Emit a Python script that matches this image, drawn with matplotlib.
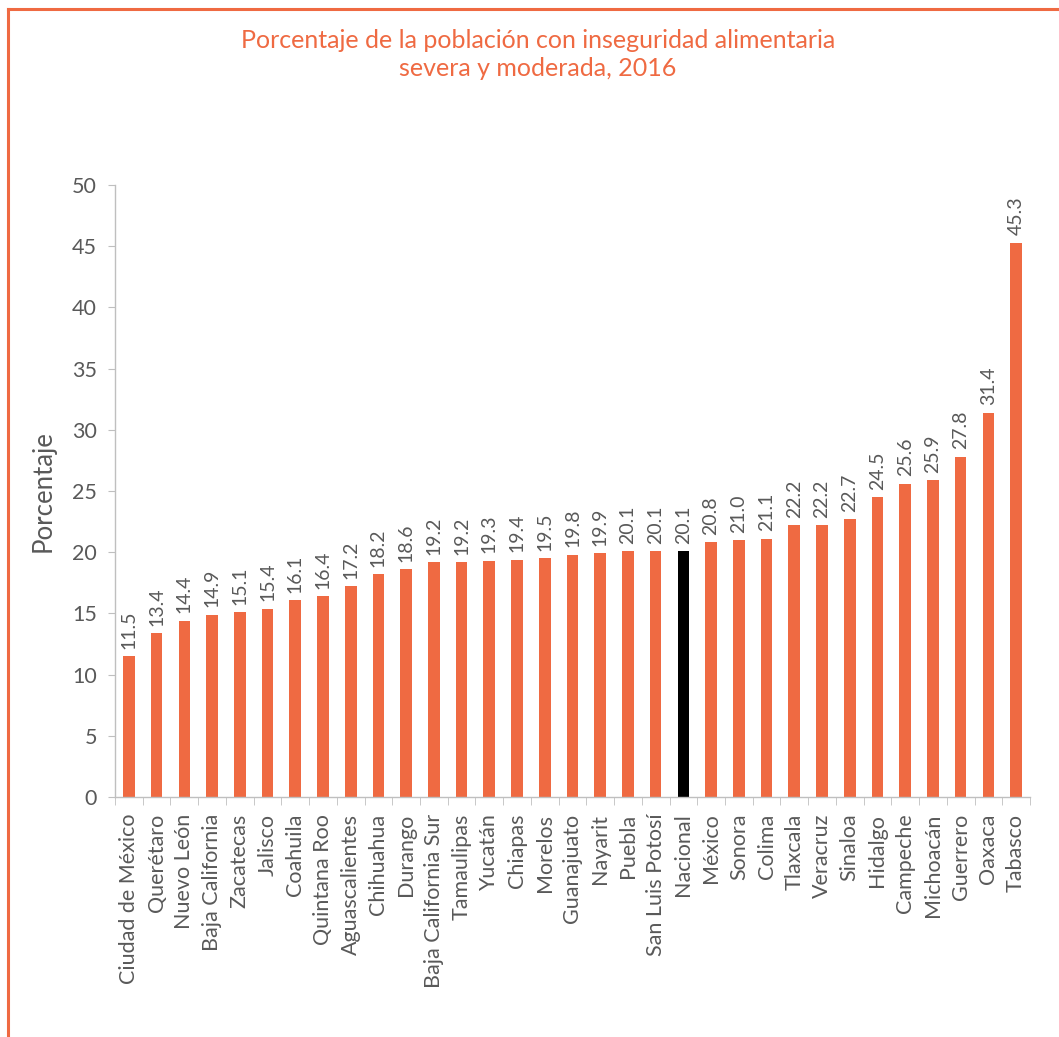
import matplotlib
matplotlib.use("Agg")
import matplotlib.pyplot as plt
from matplotlib.lines import Line2D
import numpy as np

categories = ["Ciudad de México", "Querétaro", "Nuevo León", "Baja California", "Zacatecas",
              "Jalisco", "Coahuila", "Quintana Roo", "Aguascalientes", "Chihuahua", "Durango",
              "Baja California Sur", "Tamaulipas", "Yucatán", "Chiapas", "Morelos", "Guanajuato",
              "Nayarit", "Puebla", "San Luis Potosí", "Nacional", "México", "Sonora", "Colima",
              "Tlaxcala", "Veracruz", "Sinaloa", "Hidalgo", "Campeche", "Michoacán", "Guerrero",
              "Oaxaca", "Tabasco"]
values = [11.5, 13.4, 14.4, 14.9, 15.1, 15.4, 16.1, 16.4, 17.2, 18.2, 18.6, 19.2, 19.2, 19.3,
          19.4, 19.5, 19.8, 19.9, 20.1, 20.1, 20.1, 20.8, 21.0, 21.1, 22.2, 22.2, 22.7, 24.5,
          25.6, 25.9, 27.8, 31.4, 45.3]
yticks = [0, 5, 10, 15, 20, 25, 30, 35, 40, 45, 50]

ORANGE = "#EF6A42"
GRAY = "#595959"
FONT = ["Lato", "DejaVu Sans"]
plt.rcParams["font.family"] = FONT

fig = plt.figure(figsize=(10.59, 10.37), dpi=100)
ax = fig.add_axes([0.1086, 0.2314, 0.8640, 0.5902])

x = np.arange(len(categories))
colors = ["black" if c == "Nacional" else ORANGE for c in categories]
bars = ax.bar(x, values, width=0.42, color=colors, zorder=2)
for xi, v in zip(x, values):
    ax.text(xi, v + 0.6, f"{v:.1f}", rotation=90, ha="center", va="bottom",
            fontsize=14, color=GRAY)

ax.set_xlim(-0.5, len(categories) - 0.5)
ax.set_ylim(0, 50)
ax.set_yticks(yticks)
ax.set_yticklabels([str(t) for t in yticks], fontsize=15.5, color=GRAY)
ax.set_xticks(x)
ax.set_xticklabels(categories, rotation=90, fontsize=15.5, color=GRAY)
ax.tick_params(axis="x", length=0, pad=12)
ax.tick_params(axis="y", length=5, color="#BFBFBF", pad=8)
ax.set_xticks(np.arange(-0.5, len(categories), 1.0), minor=True)
ax.tick_params(axis="x", which="minor", length=6, color="#BFBFBF", direction="out")
for s in ["top", "right"]:
    ax.spines[s].set_visible(False)
for s in ["left", "bottom"]:
    ax.spines[s].set_color("#BFBFBF")
    ax.spines[s].set_linewidth(1)
ax.set_ylabel("Porcentaje", fontsize=18.5, color=GRAY, labelpad=12)

fig.text(0.508, 0.961, "Porcentaje de la población con inseguridad alimentaria",
         ha="center", va="center", fontsize=18, color=ORANGE)
fig.text(0.508, 0.934, "severa y moderada, 2016",
         ha="center", va="center", fontsize=18, color=ORANGE)

fig.add_artist(Line2D([8/1059, 8/1059], [0, 1 - 9/1037], transform=fig.transFigure,
                      color=ORANGE, lw=2.2))
fig.add_artist(Line2D([8/1059, 1], [1 - 9/1037, 1 - 9/1037], transform=fig.transFigure,
                      color=ORANGE, lw=2.2))

fig.savefig("out.png", dpi=100)
